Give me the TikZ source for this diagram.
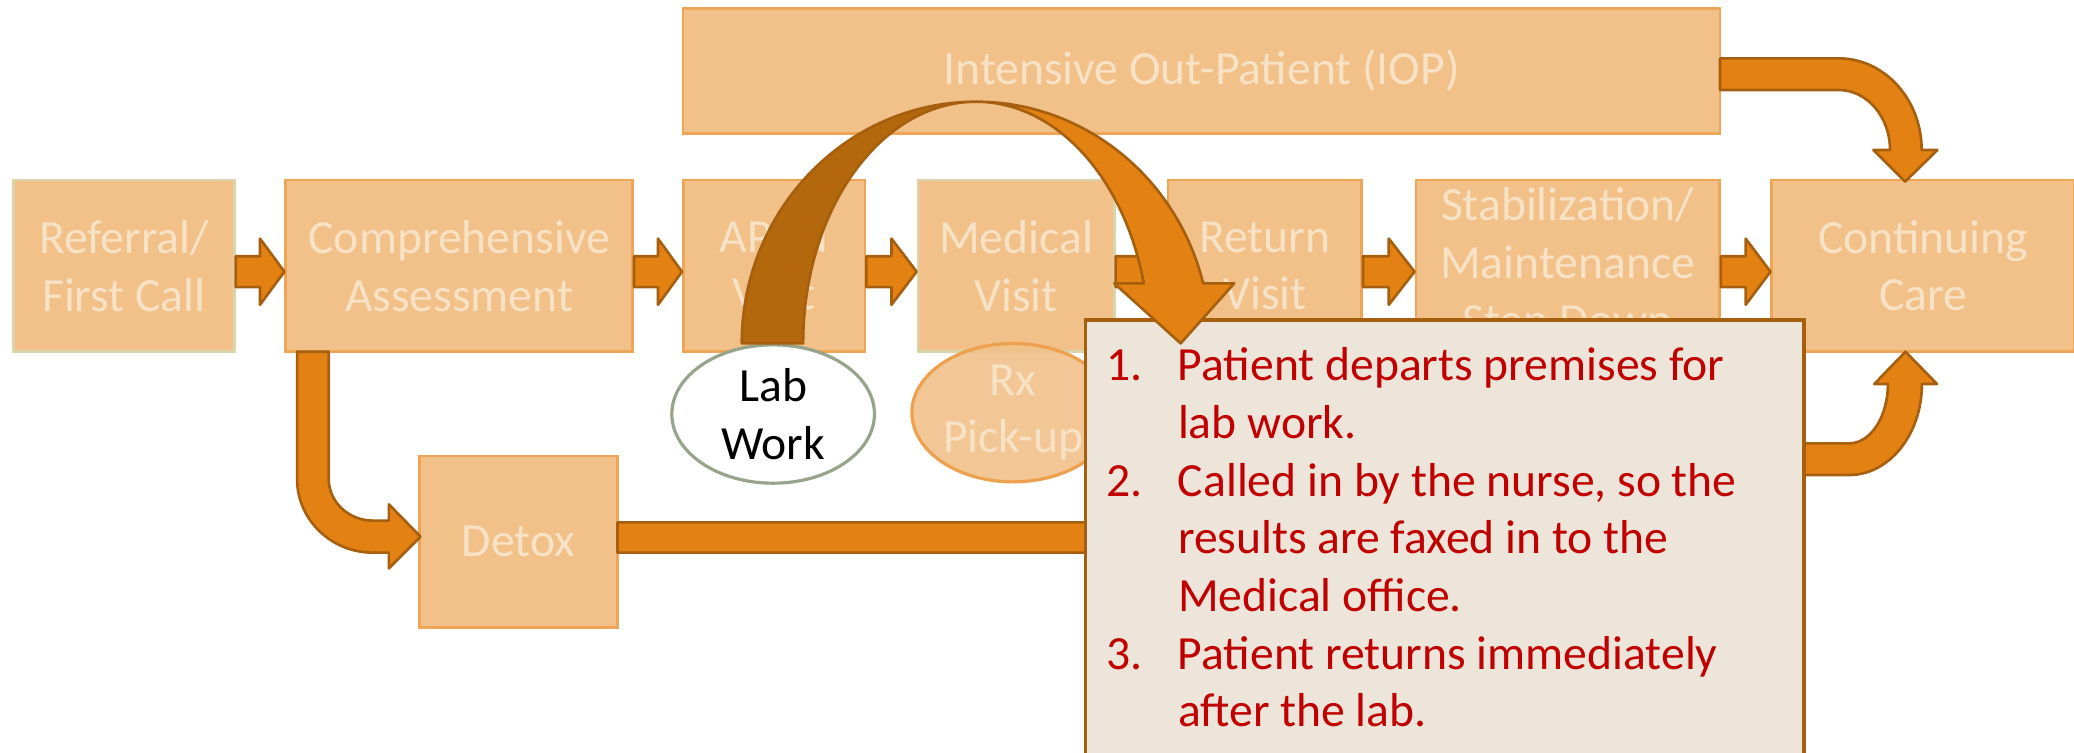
\documentclass[tikz,border=0pt]{standalone}
\usepackage{fontspec}
\setmainfont{Carlito}
\usetikzlibrary{shapes.geometric,calc}

\definecolor{boxfill}{HTML}{F1C189}
\definecolor{boxline}{HTML}{EEA656}
\definecolor{boxgreen}{HTML}{D9D4A9}
\definecolor{boxtext}{HTML}{F8E2C6}
\definecolor{flowfill}{HTML}{E38213}
\definecolor{flowdark}{HTML}{B4680D}
\definecolor{flowline}{HTML}{A65F0E}
\definecolor{notefill}{HTML}{EDE5DA}
\definecolor{notetext}{HTML}{C00000}
\definecolor{labline}{HTML}{97A38A}
\definecolor{rxline}{HTML}{EDA04E}

\newcommand\stagefont{\fontsize{18}{21.8}\selectfont}

\tikzset{
  stage/.style={draw=boxline, fill=boxfill, line width=1pt, text=boxtext,
    font=\stagefont, align=center, inner sep=0pt, minimum height=64.9pt},
  greenedge/.style={draw=boxgreen},
  blockarrow/.style={draw=flowline, fill=flowfill, line width=1pt, line join=round},
  visit/.style={ellipse, inner sep=0pt, minimum width=76.6pt, minimum height=52.3pt,
    line width=1.2pt, font=\stagefont, align=center},
}

% straight block arrow between two neighbouring stages
\newcommand\flowarrow[2]{%
  \draw[blockarrow] let \p1=(#1.east), \p2=(#2.west), \p3=($(\p1)!.5!(\p2)$) in
    (\x1,\y1+3.65pt) -- (\x3,\y1+3.65pt) -- (\x3,\y1+10.3pt) -- (\x2,\y1-2.2pt)
    -- (\x3,\y1-14.7pt) -- (\x3,\y1-8.05pt) -- (\x1,\y1-8.05pt) -- cycle;}

\begin{document}
\begin{tikzpicture}[x=0.5pt,y=-0.5pt]
\useasboundingbox (0,0) rectangle (1568,569);
\clip (0,0) rectangle (1568,569);

% stages
\node[stage, minimum width=392pt, minimum height=47.25pt] (iop) at (908.4,53.55) {Intensive Out-Patient (IOP)};
\node[stage, greenedge, minimum width=83.55pt] (ref) at (93.65,201) {Referral/\\First Call};
\node[stage, minimum width=131.15pt] (comp) at (347.15,201) {Comprehensive\\Assessment};
\node[stage, minimum width=68.7pt] (aprn) at (585.3,201) {APRN\\Visit};
\node[stage, greenedge, minimum width=74.2pt] (med) at (768.2,201) {Medical\\Visit};
\node[stage, minimum width=73.25pt] (ret) at (956.25,201) {Return\\Visit};
\node[stage, minimum width=114.8pt] (stab) at (1185.2,201) {Stabilization/\\Maintenance\\Step Down};
\node[stage, minimum width=114.5pt] (cont) at (1454,201) {Continuing\\Care};
\node[stage, minimum width=74.9pt, minimum height=64.85pt] (detox) at (391.9,409.65) {Detox};

% main flow
\flowarrow{ref}{comp}
\flowarrow{comp}{aprn}
\flowarrow{aprn}{med}
\flowarrow{med}{ret}
\flowarrow{ret}{stab}
\flowarrow{stab}{cont}

% IOP into continuing care
\draw[blockarrow] (1300.4,44.1) -- (1390,44.1)
  arc[start angle=270, end angle=360, x radius=62.8, y radius=69.3]
  -- (1464.7,113.4) -- (1440.3,137.3) -- (1416.3,113.4) -- (1428.9,113.4)
  arc[start angle=360, end angle=270, x radius=38.9, y radius=45.4]
  -- (1300.4,68) -- cycle;

% assessment down to detox
\draw[blockarrow] (224.6,265.9) -- (224.6,362)
  arc[start angle=180, end angle=90, x radius=57.4, y radius=55.8]
  -- (294,417.8) -- (294,429.7) -- (317.9,405.7) -- (294,381.3) -- (294,393.6) -- (282,393.6)
  arc[start angle=90, end angle=180, x radius=33.5, y radius=31.6]
  -- (248.5,265.9) -- cycle;

% detox on to continuing care
\draw[blockarrow] (466.8,394.9) -- (1086,394.9) -- (1086,335.2) -- (1398,335.2)
  arc[start angle=90, end angle=0, x radius=29.3, y radius=44.9]
  -- (1417,290.3) -- (1440.6,265.9) -- (1464.4,290.3) -- (1453,290.3)
  arc[start angle=0, end angle=90, x radius=55, y radius=68.8]
  -- (1110,359.1) -- (1110,417.8) -- (466.8,417.8) -- cycle;

% side visits
\node[visit, fill=boxfill, fill opacity=0.9, text opacity=1, draw=rxline, text=boxtext] (rx) at (766,312) {Rx\\Pick-up};
\node[visit, fill=white, draw=labline, text=black] (lab) at (584.5,313) {Lab\\Work};

% lab work steps
\node[draw=flowline, fill=notefill, line width=1.4pt, anchor=north west,
  minimum width=271.75pt, minimum height=180pt, inner sep=0pt] (note) at (819.2,240.7) {};
\node[anchor=base west, inner sep=0pt, text=notetext, font=\stagefont] (steps) at (836.2,288) {%
  \begin{tabular}[t]{@{}l@{}l@{}}
  \makebox[27pt][l]{1.} & Patient departs premises for\\
   & lab work.\\
  \makebox[27pt][l]{2.} & Called in by the nurse, so the\\
   & results are faxed in to the\\
   & Medical office.\\
  \makebox[27pt][l]{3.} & Patient returns immediately\\
   & after the lab.
  \end{tabular}};

% arch from the lab back to the steps
\draw[blockarrow, fill=flowdark] (560.8,259.6)
  arc[start angle=180, end angle=270, x radius=177.2, y radius=182.7]
  arc[start angle=270, end angle=180, x radius=130.8, y radius=182.7] -- cycle;
\draw[blockarrow] (738,76.9)
  arc[start angle=270, end angle=345.61, x radius=177.2, y radius=182.7]
  -- (933.1,214.2) -- (892.6,259.6) -- (842.4,214.2) -- (864.7,214.2)
  arc[start angle=345.61, end angle=270, x radius=130.8, y radius=182.7] -- cycle;
\end{tikzpicture}
\end{document}
